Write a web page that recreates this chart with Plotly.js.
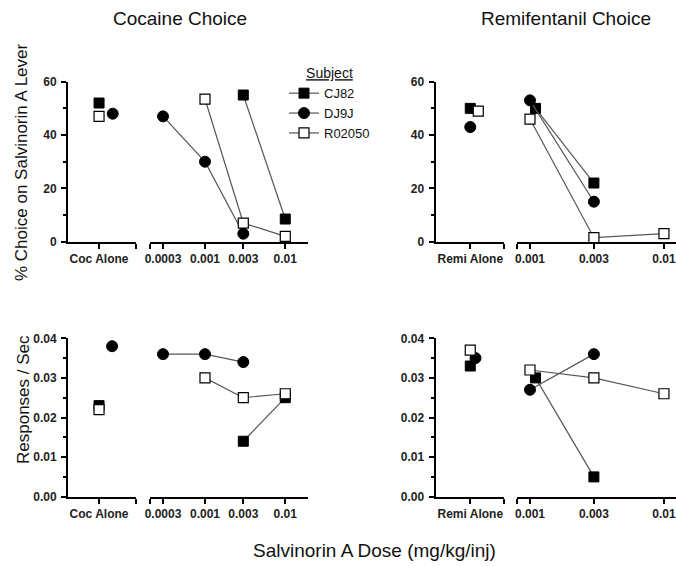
<!DOCTYPE html>
<html>
<head>
<meta charset="utf-8">
<script src="https://cdn.plot.ly/plotly-3.0.1.min.js"></script>
<style>html,body{margin:0;padding:0;background:#fff;}#chart{width:676px;height:566px;}</style>
</head>
<body>
<div id="chart"></div>
<script>
// ---------------- DATA ----------------
const subjects = ['CJ82', 'DJ9J', 'R02050'];
const cocAloneLabel = 'Coc Alone';
const remiAloneLabel = 'Remi Alone';
const cocDoseTicks = [0.0003, 0.001, 0.003, 0.01];
const cocDoseTickText = ['0.0003', '0.001', '0.003', '0.01'];
const remiDoseTicks = [0.001, 0.003, 0.01];
const remiDoseTickText = ['0.001', '0.003', '0.01'];

// x position inside the "alone" category (slight horizontal jitter as drawn)
const cocAloneX = [1, 1.44, 1];
const remiAloneX = [1, 1, 1.23];
const cocRateAloneX = [1, 1.42, 1];
const remiRateAloneX = [1, 1.15, 1];

// % choice on Salvinorin A lever, cocaine choice
const cocChoiceAlone = [52, 48, 47];
const cocChoiceDoseX = [[0.003, 0.01], [0.0003, 0.001, 0.003], [0.001, 0.003, 0.01]];
const cocChoiceDose = [[55, 8.5], [47, 30, 3], [53.5, 7, 2]];

// % choice, remifentanil choice
const remiChoiceAlone = [50, 43, 49];
const remiChoiceDoseX = [[0.0011, 0.003], [0.001, 0.003], [0.001, 0.003, 0.01]];
const remiChoiceDose = [[50, 22], [53, 15], [46, 1.5, 3]];

// Responses / sec, cocaine choice
const cocRateAlone = [0.023, 0.038, 0.022];
const cocRateDoseX = [[0.003, 0.01], [0.0003, 0.001, 0.003], [0.001, 0.003, 0.01]];
const cocRateDose = [[0.014, 0.025], [0.036, 0.036, 0.034], [0.030, 0.025, 0.026]];

// Responses / sec, remifentanil choice
const remiRateAlone = [0.033, 0.035, 0.037];
const remiRateDoseX = [[0.0011, 0.003], [0.001, 0.003], [0.001, 0.003, 0.01]];
const remiRateDose = [[0.030, 0.005], [0.027, 0.036], [0.032, 0.030, 0.026]];

// ---------------- STYLE ----------------
const W = 676, H = 566;
const fx = p => p / W;
const fy = p => 1 - p / H;
const FONT = 'Liberation Sans, Arial, sans-serif';

const markerStyles = [
  {symbol: 'square', size: 10, color: '#000', line: {color: '#000', width: 1}},
  {symbol: 'circle', size: 11, color: '#000', line: {color: '#000', width: 1}},
  {symbol: 'square', size: 10, color: '#fff', line: {color: '#000', width: 1.2}}
];
const lineStyle = {color: '#555', width: 1.2};

const traces = [];
function addPanel(xa, xd, ya, aloneX, aloneVals, doseX, doseVals, showLeg) {
  subjects.forEach((s, i) => {
    traces.push({
      type: 'scatter', mode: 'markers', x: [aloneX[i]], y: [aloneVals[i]],
      xaxis: xa, yaxis: ya, marker: markerStyles[i], showlegend: false,
      legendgroup: s, name: s, cliponaxis: false, hoverinfo: 'skip'
    });
  });
  subjects.forEach((s, i) => {
    traces.push({
      type: 'scatter', mode: 'lines+markers', x: doseX[i], y: doseVals[i],
      xaxis: xd, yaxis: ya, marker: markerStyles[i], line: lineStyle,
      showlegend: showLeg, legendgroup: s, name: s, cliponaxis: false, hoverinfo: 'skip'
    });
  });
}
addPanel('x', 'x2', 'y', cocAloneX, cocChoiceAlone, cocChoiceDoseX, cocChoiceDose, true);
addPanel('x3', 'x4', 'y2', remiAloneX, remiChoiceAlone, remiChoiceDoseX, remiChoiceDose, false);
addPanel('x5', 'x6', 'y3', cocRateAloneX, cocRateAlone, cocRateDoseX, cocRateDose, false);
addPanel('x7', 'x8', 'y4', remiRateAloneX, remiRateAlone, remiRateDoseX, remiRateDose, false);

const tickFont = {family: FONT, size: 12, color: '#222', weight: 'bold'};
const baseAxis = {
  showline: true, linewidth: 2, linecolor: '#000', ticks: 'outside', ticklen: 5,
  tickwidth: 2, tickcolor: '#000', showgrid: false, zeroline: false,
  tickfont: tickFont, fixedrange: true
};
function aloneAxis(dom, R, label, anchor) {
  return Object.assign({}, baseAxis, {
    domain: dom, anchor: anchor, type: 'linear', range: [0, R],
    tickmode: 'array', tickvals: [1, R], ticktext: [label, '']
  });
}
function doseAxis(dom, rng, ticks, text, anchor) {
  return Object.assign({}, baseAxis, {
    domain: dom, anchor: anchor, type: 'log', range: rng,
    tickmode: 'array', tickvals: [Math.pow(10, rng[0] + 0.001)].concat(ticks),
    ticktext: [''].concat(text)
  });
}
function yAxis(dom, rng, dtick, minor, fmt, anchor) {
  return Object.assign({}, baseAxis, {
    domain: dom, anchor: anchor, range: rng, tick0: 0, dtick: dtick,
    tickformat: fmt, ticklabelstandoff: 2,
    minor: {dtick: minor, tick0: 0, ticks: 'outside', ticklen: 3, tickwidth: 2, tickcolor: '#000', showgrid: false}
  });
}

const topY = [fy(241.7), fy(81.7)];
const botY = [fy(496.7), fy(338.3)];
const leftAlone = [fx(68), fx(136)];
const leftDose = [fx(150), fx(308)];
const rightAlone = [fx(435.5), fx(504)];
const rightDose = [fx(517), 1];
const cocRange = [-3.685, -1.717];
const remiRange = [-3.097, -1.91];

const layout = {
  width: W, height: H,
  margin: {l: 0, r: 0, t: 0, b: 0},
  paper_bgcolor: '#fff', plot_bgcolor: 'rgba(0,0,0,0)',
  font: {family: FONT, color: '#111'},
  showlegend: true,
  legend: {
    x: fx(284), y: fy(60), xanchor: 'left', yanchor: 'top',
    bgcolor: 'rgba(0,0,0,0)', borderwidth: 0,
    font: {family: FONT, size: 13, color: '#111'},
    title: {text: '<u>Subject</u>', font: {family: FONT, size: 14, color: '#111'}, side: 'top center'},
    tracegroupgap: 0, itemwidth: 30
  },
  xaxis: aloneAxis(leftAlone, 2.19, cocAloneLabel, 'y'),
  xaxis2: doseAxis(leftDose, cocRange, cocDoseTicks, cocDoseTickText, 'y'),
  xaxis3: aloneAxis(rightAlone, 1.97, remiAloneLabel, 'y2'),
  xaxis4: doseAxis(rightDose, remiRange, remiDoseTicks, remiDoseTickText, 'y2'),
  xaxis5: aloneAxis(leftAlone, 2.19, cocAloneLabel, 'y3'),
  xaxis6: doseAxis(leftDose, cocRange, cocDoseTicks, cocDoseTickText, 'y3'),
  xaxis7: aloneAxis(rightAlone, 1.97, remiAloneLabel, 'y4'),
  xaxis8: doseAxis(rightDose, remiRange, remiDoseTicks, remiDoseTickText, 'y4'),
  yaxis: yAxis(topY, [0, 60], 20, 10, 'd', 'x'),
  yaxis2: yAxis(topY, [0, 60], 20, 10, 'd', 'x3'),
  yaxis3: yAxis(botY, [0, 0.04], 0.01, 0.005, '.2f', 'x5'),
  yaxis4: yAxis(botY, [0, 0.04], 0.01, 0.005, '.2f', 'x7'),
  annotations: [
    {text: 'Cocaine Choice', x: fx(180), y: fy(18), xref: 'paper', yref: 'paper', showarrow: false,
     xanchor: 'center', yanchor: 'middle', font: {family: FONT, size: 19, color: '#111'}},
    {text: 'Remifentanil Choice', x: fx(566), y: fy(18), xref: 'paper', yref: 'paper', showarrow: false,
     xanchor: 'center', yanchor: 'middle', font: {family: FONT, size: 19, color: '#111'}},
    {text: '% Choice on Salvinorin A Lever', x: fx(21), y: fy(162), xref: 'paper', yref: 'paper', showarrow: false,
     textangle: -90, xanchor: 'center', yanchor: 'middle', font: {family: FONT, size: 17, color: '#111'}},
    {text: 'Responses / Sec', x: fx(23), y: fy(400), xref: 'paper', yref: 'paper', showarrow: false,
     textangle: -90, xanchor: 'center', yanchor: 'middle', font: {family: FONT, size: 17, color: '#111'}},
    {text: 'Salvinorin A Dose (mg/kg/inj)', x: fx(374), y: fy(550), xref: 'paper', yref: 'paper', showarrow: false,
     xanchor: 'center', yanchor: 'middle', font: {family: FONT, size: 19, color: '#111'}}
  ]
};

Plotly.newPlot('chart', traces, layout, {staticPlot: true, displayModeBar: false});
</script>
</body>
</html>
